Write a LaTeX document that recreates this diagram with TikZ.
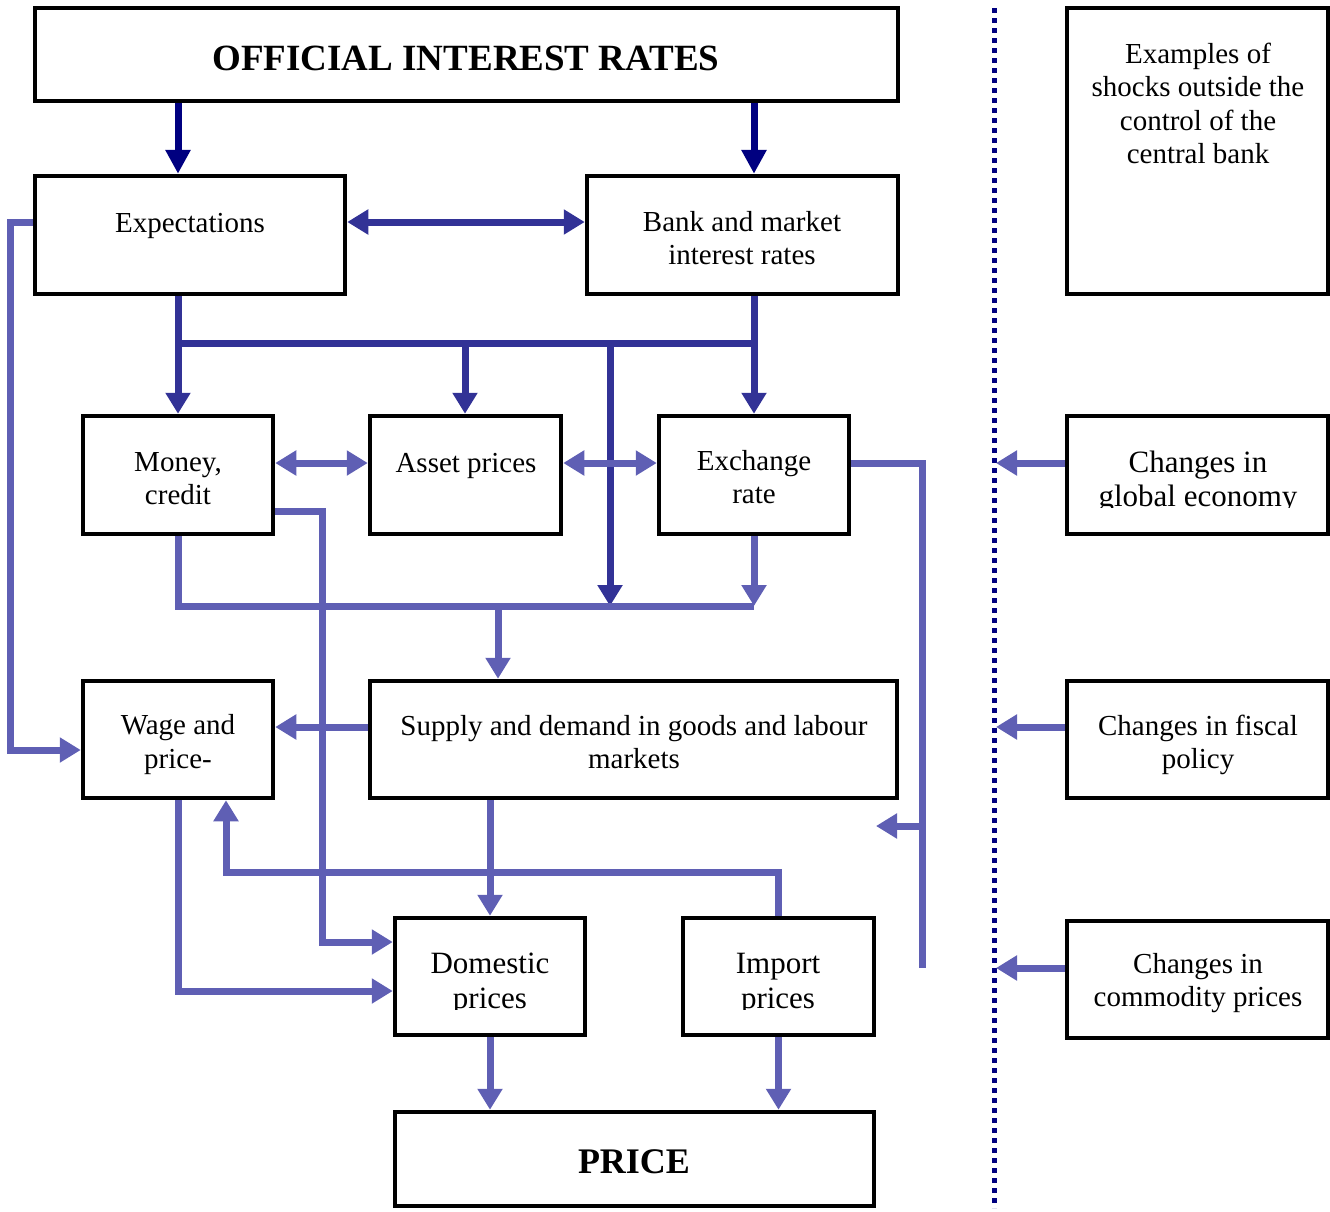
\documentclass[tikz,border=0pt]{standalone}
\usepackage{fontspec}
\setmainfont{Liberation Serif}
\usetikzlibrary{arrows.meta}
\definecolor{navy}{RGB}{0,0,128}
\definecolor{hdark}{RGB}{50,50,150}
\definecolor{hlight}{RGB}{95,95,180}
\begin{document}
\begin{tikzpicture}[x=1pt,y=-1pt,
 box/.style={draw=black,line width=4.5pt,inner sep=0pt,fill=white},
 lbl/.style={anchor=base,inner sep=0pt,font=\fontsize{29}{33}\selectfont},
 lblb/.style={anchor=base,inner sep=0pt,font=\fontsize{31}{37}\selectfont},
 ttl/.style={anchor=base,inner sep=0pt,font=\bfseries\fontsize{37}{40}\selectfont},
 solidarrow/.style={draw=navy,line width=7pt,-{Triangle[width=24pt,length=24pt]}},
 hd/.style={draw=hdark,line width=7pt,line join=miter},
 hl/.style={draw=hlight,line width=7pt,line join=miter},
 tip/.style={-{Triangle[width=24pt,length=21pt]}},
 dtip/.style={{Triangle[width=24pt,length=21pt]}-{Triangle[width=24pt,length=21pt]}},
 dotline/.style={draw=navy,line width=5pt,dash pattern=on 5pt off 5pt}
]
\useasboundingbox (0,0) rectangle (1330,1211);

% boxes
\node[box,minimum width=863pt,minimum height=93pt] (oir) at (466.5,54.5) {};
\node[box,minimum width=310pt,minimum height=118pt] (exp) at (190,235) {};
\node[box,minimum width=311pt,minimum height=118pt] (bank) at (742.5,235) {};
\node[box,minimum width=261pt,minimum height=286pt] (exa) at (1197.5,151) {};
\node[box,minimum width=190pt,minimum height=118pt] (money) at (178,475) {};
\node[box,minimum width=191pt,minimum height=118pt] (asset) at (465.5,475) {};
\node[box,minimum width=190pt,minimum height=118pt] (xr) at (754,475) {};
\node[box,minimum width=261pt,minimum height=118pt] (glob) at (1197.5,475) {};
\node[box,minimum width=190pt,minimum height=117pt] (wage) at (178,739.5) {};
\node[box,minimum width=527pt,minimum height=117pt] (sd) at (633.5,739.5) {};
\node[box,minimum width=261pt,minimum height=117pt] (fisc) at (1197.5,739.5) {};
\node[box,minimum width=190pt,minimum height=117pt] (dom) at (490,976.5) {};
\node[box,minimum width=191pt,minimum height=117pt] (imp) at (778.5,976.5) {};
\node[box,minimum width=261pt,minimum height=117pt] (comm) at (1197.5,979.5) {};
\node[box,minimum width=479pt,minimum height=94pt] (price) at (634.5,1159) {};

% texts
\node[ttl] (oirT) at (466,70) {OFFICIAL INTEREST RATES};
\node[lbl] (expT) at (190,232) {Expectations};
\node[lbl] (bankT1) at (742,231) {Bank and market};
\node[lbl] (bankT2) at (742,264) {interest rates};
\node[lbl] (exaT1) at (1198,63) {Examples of};
\node[lbl] (exaT2) at (1198,96) {shocks outside the};
\node[lbl] (exaT3) at (1198,130) {control of the};
\node[lbl] (exaT4) at (1198,163) {central bank};
\node[lbl] (moneyT1) at (178,471) {Money,};
\node[lbl] (moneyT2) at (178,504) {credit};
\node[lbl] (assetT) at (466,472) {Asset prices};
\node[lbl] (xrT1) at (754,470) {Exchange};
\node[lbl] (xrT2) at (754,503) {rate};
\node[lblb] (globT1) at (1198,472) {Changes in};
\begin{scope}
\clip (1070,480) rectangle (1325,507);
\node[lblb] (globT2) at (1198,506) {global economy};
\end{scope}
\node[lbl] (wageT1) at (178,734) {Wage and};
\node[lbl] (wageT2) at (178,768) {price-};
\node[lbl] (sdT1) at (634,735) {Supply and demand in goods and labour};
\node[lbl] (sdT2) at (634,768) {markets};
\node[lbl] (fiscT1) at (1198,735) {Changes in fiscal};
\node[lbl] (fiscT2) at (1198,768) {policy};
\node[lblb] (domT1) at (490,973) {Domestic};
\begin{scope}
\clip (400,985) rectangle (580,1009);
\node[lblb] (domT2) at (490,1008) {prices};
\end{scope}
\node[lblb] (impT1) at (778,973) {Import};
\begin{scope}
\clip (690,985) rectangle (870,1009);
\node[lblb] (impT2) at (778,1008) {prices};
\end{scope}
\node[lbl] (commT1) at (1198,973) {Changes in};
\node[lbl] (commT2) at (1198,1006) {commodity prices};
\node[ttl,font=\bfseries\fontsize{36}{40}\selectfont] (priceT) at (634,1173) {PRICE};

% helper coordinates
\coordinate (y222) at (0,222);
\coordinate (y343) at (0,343);
\coordinate (y463) at (0,463);
\coordinate (y511) at (0,511);
\coordinate (y606) at (0,606);
\coordinate (y727) at (0,727);
\coordinate (y750) at (0,750);
\coordinate (y826) at (0,826);
\coordinate (y872) at (0,872);
\coordinate (y942) at (0,942);
\coordinate (y968) at (0,968);
\coordinate (y991) at (0,991);
\coordinate (xL) at (10,0);
\coordinate (x226) at (226,0);
\coordinate (x322) at (322,0);
\coordinate (x465) at (465,0);
\coordinate (x498) at (498,0);
\coordinate (x610) at (610,0);
\coordinate (x876) at (876,0);
\coordinate (x922) at (922,0);
\coordinate (xD) at (996,0);
\coordinate (dotTop) at (994,8);
\coordinate (dotBot) at (994,1208);

% dotted separator
\draw[dotline] (dotTop) -- (dotBot);

% solid arrows from official rates
\draw[solidarrow] (oir.south -| money.north) -- (exp.north -| money.north);
\draw[solidarrow] (oir.south -| xr.north) -- (bank.north -| xr.north);

% expectations <-> bank
\draw[hd,dtip] (exp.east |- y222) -- (bank.west |- y222);

% upper bus
\draw[hd,tip] (exp.south -| money.north) -- (money.north);
\draw[hd] (money.north |- y343) -- (xr.north |- y343);
\draw[hd,tip] (x465 |- y343) -- (x465 |- asset.north);
\draw[hd,tip] (bank.south -| xr.north) -- (xr.north);
\draw[hd,tip] (x610 |- y343) -- (x610 |- y606);

% horizontal double arrows
\draw[hl,dtip] (money.east |- y463) -- (asset.west |- y463);
\draw[hl,dtip] (asset.east |- y463) -- (xr.west |- y463);

% lower bus
\draw[hl] (money.south) -- (money.south |- y606) -- (xr.south |- y606);
\draw[hl,tip] (xr.south) -- (xr.south |- y606);
\draw[hl,tip] (x498 |- y606) -- (x498 |- sd.north);

% left loop from expectations to wage
\draw[hl,tip] (exp.west |- y222) -- (xL |- y222) -- (xL |- y750) -- (wage.west |- y750);

% supply -> wage
\draw[hl,tip] (sd.west |- y727) -- (wage.east |- y727);

% money -> domestic
\draw[hl,tip] (money.east |- y511) -- (x322 |- y511) -- (x322 |- y942) -- (dom.west |- y942);

% wage -> domestic
\draw[hl,tip] (wage.south) -- (wage.south |- y991) -- (dom.west |- y991);

% supply -> domestic
\draw[hl,tip] (sd.south -| dom.north) -- (dom.north);

% import -> wage
\draw[hl,tip] (imp.north) -- (imp.north |- y872) -- (x226 |- y872) -- (x226 |- wage.south);

% exchange rate -> right side
\draw[hl] (xr.east |- y463) -- (x922 |- y463) -- (x922 |- y968);
\draw[hl,tip] (x922 |- y826) -- (x876 |- y826);

% to price
\draw[hl,tip] (dom.south) -- (dom.south |- price.north);
\draw[hl,tip] (imp.south) -- (imp.south |- price.north);

% shocks
\draw[hl,tip] (glob.west |- y463) -- (xD |- y463);
\draw[hl,tip] (fisc.west |- y727) -- (xD |- y727);
\draw[hl,tip] (comm.west |- y968) -- (xD |- y968);
\end{tikzpicture}
\end{document}
